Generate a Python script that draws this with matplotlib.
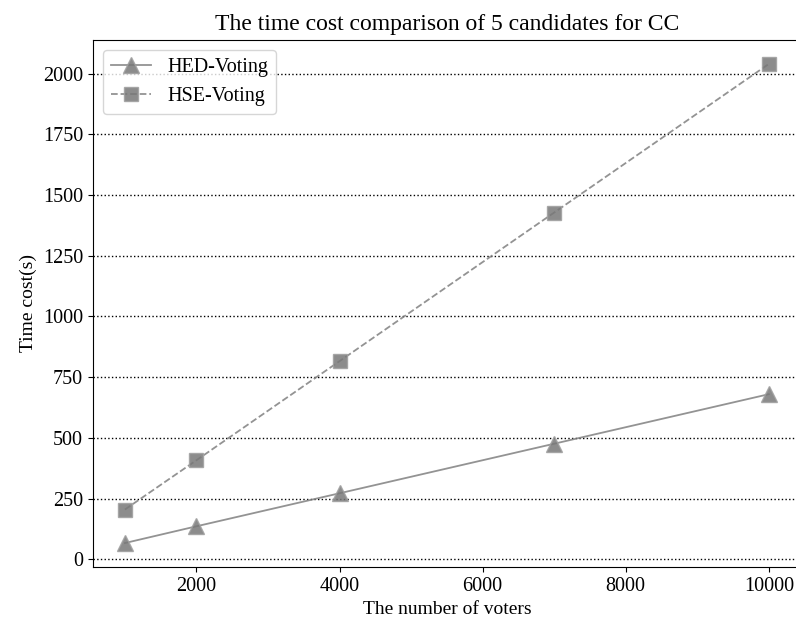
import matplotlib
matplotlib.use("Agg")
import matplotlib.pyplot as plt

voters = [1000, 2000, 4000, 7000, 10000]
hed_voting = [67, 136, 272, 476, 680]
hse_voting = [205, 408, 816, 1428, 2040]

plt.rcParams['font.family'] = ['Liberation Serif', 'DejaVu Serif']

fig = plt.figure(figsize=(7.96, 6.24), dpi=100)
ax = fig.add_axes([92.7/796, (624-567)/624, (801-92.7)/796, (567-40)/624])

ax.plot(voters, hed_voting, linestyle='-', color='gray', alpha=0.85, marker='^',
        markersize=11, markerfacecolor='#787878', markeredgecolor='#a0a0a0',
        linewidth=1.3, label='HED-Voting')
ax.plot(voters, hse_voting, linestyle='--', color='gray', alpha=0.85, marker='s',
        markersize=10, markerfacecolor='#787878', markeredgecolor='#a0a0a0',
        linewidth=1.3, label='HSE-Voting')

ax.set_xlim(550, 10450)
ax.spines['right'].set_visible(False)
ax.set_yticks([0, 250, 500, 750, 1000, 1250, 1500, 1750, 2000])
ax.set_xticks([2000, 4000, 6000, 8000, 10000])
ax.grid(axis='y', linestyle=':', color='black', linewidth=1.0)
ax.tick_params(labelsize=14.5)
ax.set_title('The time cost comparison of 5 candidates for CC', fontsize=17, pad=7)
ax.set_xlabel('The number of voters', fontsize=14)
ax.set_ylabel('Time cost(s)', fontsize=14)
ax.legend(loc='upper left', fontsize=14.5)

fig.savefig('out.png', dpi=100)
